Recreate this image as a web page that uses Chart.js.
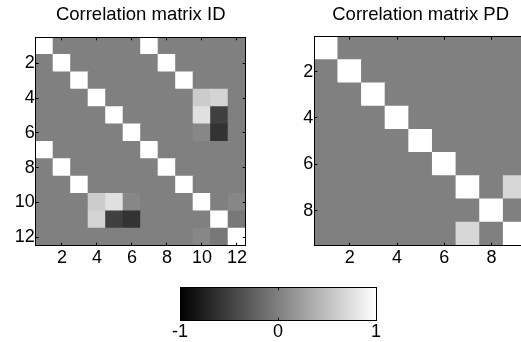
<!DOCTYPE html>
<html>
<head>
<meta charset="utf-8">
<script src="https://cdn.jsdelivr.net/npm/chart.js@4/dist/chart.umd.min.js"></script>
<style>
  html, body { margin: 0; padding: 0; background: #fff; overflow: hidden; width: 521px; height: 342px; }
  .box { position: absolute; }
</style>
</head>
<body>
<div class="box" style="left:0;top:0"><canvas id="idChart" width="260" height="270"></canvas></div>
<div class="box" style="left:270px;top:0"><canvas id="pdChart" width="270" height="270"></canvas></div>
<div class="box" style="left:160px;top:270px"><canvas id="barChart" width="240" height="72"></canvas></div>
<script>
Chart.defaults.font.family = '"Liberation Sans", Arial, sans-serif';
Chart.defaults.font.size = 18;
Chart.defaults.color = '#000';

const idTitle = 'Correlation matrix ID';
const pdTitle = 'Correlation matrix PD';
const idTicks = [2, 4, 6, 8, 10, 12];
const pdTicks = [2, 4, 6, 8];
const barTicks = [-1, 0, 1];

// rows top to bottom, columns left to right
const idMatrix = [
  [1, 0, 0, 0, 0, 0, 1, 0, 0, 0, 0, 0],
  [0, 1, 0, 0, 0, 0, 0, 1, 0, 0, 0, 0],
  [0, 0, 1, 0, 0, 0, 0, 0, 1, 0, 0, 0],
  [0, 0, 0, 1, 0, 0, 0, 0, 0, 0.6, 0.66, 0],
  [0, 0, 0, 0, 1, 0, 0, 0, 0, 0.76, -0.5, 0],
  [0, 0, 0, 0, 0, 1, 0, 0, 0, 0.06, -0.6, 0],
  [1, 0, 0, 0, 0, 0, 1, 0, 0, 0, 0, 0],
  [0, 1, 0, 0, 0, 0, 0, 1, 0, 0, 0, 0],
  [0, 0, 1, 0, 0, 0, 0, 0, 1, 0, 0, 0],
  [0, 0, 0, 0.6, 0.76, 0.06, 0, 0, 0, 1, 0, 0.06],
  [0, 0, 0, 0.66, -0.5, -0.6, 0, 0, 0, 0, 1, -0.06],
  [0, 0, 0, 0, 0, 0, 0, 0, 0, 0.06, -0.06, 1]
];

const pdMatrix = [
  [1, 0, 0, 0, 0, 0, 0, 0, 0],
  [0, 1, 0, 0, 0, 0, 0, 0, 0],
  [0, 0, 1, 0, 0, 0, 0, 0, 0],
  [0, 0, 0, 1, 0, 0, 0, 0, 0],
  [0, 0, 0, 0, 1, 0, 0, 0, 0],
  [0, 0, 0, 0, 0, 1, 0, 0, 0],
  [0, 0, 0, 0, 0, 0, 1, 0, 0.69],
  [0, 0, 0, 0, 0, 0, 0, 1, 0],
  [0, 0, 0, 0, 0, 0, 0.69, 0, 1]
];

function grey(v) {
  const g = Math.round((v + 1) / 2 * 255);
  return 'rgb(' + g + ',' + g + ',' + g + ')';
}

function cells(matrix) {
  const pts = [];
  matrix.forEach((row, r) => row.forEach((v, c) => pts.push({x: c + 1, y: r + 1, v: v})));
  return pts;
}

// axis with inside tick marks, fixed thickness
function axis(position, ticks, min, max, size, labels, pad) {
  return {
    type: 'linear',
    position: position,
    min: min,
    max: max,
    reverse: position === 'left' || position === 'right',
    afterBuildTicks: s => { s.ticks = ticks.map(v => ({value: v})); },
    afterFit: s => { if (s.isHorizontal()) s.height = size; else s.width = size; },
    ticks: {display: labels, padding: pad, autoSkip: false, maxRotation: 0},
    grid: {drawOnChartArea: false, drawTicks: true, tickLength: -3, color: '#000', z: 1},
    border: {display: true, color: '#000', width: 1, z: 1}
  };
}

function matrixChart(id, title, matrix, ticks, sizes) {
  const n = matrix.length;
  return new Chart(document.getElementById(id), {
    type: 'scatter',
    data: {
      datasets: [{
        data: cells(matrix),
        pointStyle: 'rect',
        pointBorderWidth: 0,
        pointBackgroundColor: c => grey(c.raw.v),
        pointRadius: c => {
          const xs = c.chart.scales.x;
          return Math.abs(xs.getPixelForValue(1) - xs.getPixelForValue(0)) / Math.SQRT2 + 0.7;
        }
      }]
    },
    options: {
      responsive: false,
      animation: false,
      events: [],
      layout: {padding: 0},
      plugins: {
        legend: {display: false},
        tooltip: {enabled: false},
        title: {
          display: true,
          text: title,
          fullSize: false,
          font: {size: 18.5, weight: 'normal'},
          padding: {top: 4, bottom: 0}
        }
      },
      scales: {
        x: axis('bottom', ticks, 0.5, n + 0.5, sizes.bottom, true, 4.5),
        x2: axis('top', ticks, 0.5, n + 0.5, sizes.top, false, 0),
        y: axis('left', ticks, 0.5, n + 0.5, sizes.left, true, 4),
        y2: axis('right', ticks, 0.5, n + 0.5, sizes.right, false, 0)
      }
    }
  });
}

matrixChart('idChart', idTitle, idMatrix, idTicks, {top: 11.1, bottom: 24.3, left: 35.7, right: 14.3});
matrixChart('pdChart', pdTitle, pdMatrix, pdTicks, {top: 10.5, bottom: 24.3, left: 44.3, right: 13});

new Chart(document.getElementById('barChart'), {
  type: 'bar',
  data: {
    labels: [''],
    datasets: [{
      data: [[-1, 1]],
      barPercentage: 1,
      categoryPercentage: 1,
      borderWidth: 0,
      backgroundColor: c => {
        const xs = c.chart.scales.x;
        if (!c.chart.chartArea || !xs) return '#808080';
        const x0 = xs.getPixelForValue(-1);
        const x1 = xs.getPixelForValue(1);
        if (!isFinite(x0) || !isFinite(x1)) return '#808080';
        const g = c.chart.ctx.createLinearGradient(x0, 0, x1, 0);
        g.addColorStop(0, '#000');
        g.addColorStop(1, '#fff');
        return g;
      }
    }]
  },
  options: {
    indexAxis: 'y',
    responsive: false,
    animation: false,
    events: [],
    layout: {padding: 0},
    plugins: {legend: {display: false}, tooltip: {enabled: false}},
    scales: {
      x: axis('bottom', barTicks, -1, 1, 21.3, true, 3.5),
      x2: axis('top', barTicks, -1, 1, 17.3, false, 0),
      y: {
        type: 'category', position: 'left',
        afterFit: s => { s.width = 20; },
        ticks: {display: false},
        grid: {display: false},
        border: {display: true, color: '#000', width: 1, z: 1}
      },
      y2: {
        type: 'category', position: 'right',
        afterFit: s => { s.width = 24; },
        ticks: {display: false},
        grid: {display: false},
        border: {display: true, color: '#000', width: 1, z: 1}
      }
    }
  }
});
</script>
</body>
</html>
